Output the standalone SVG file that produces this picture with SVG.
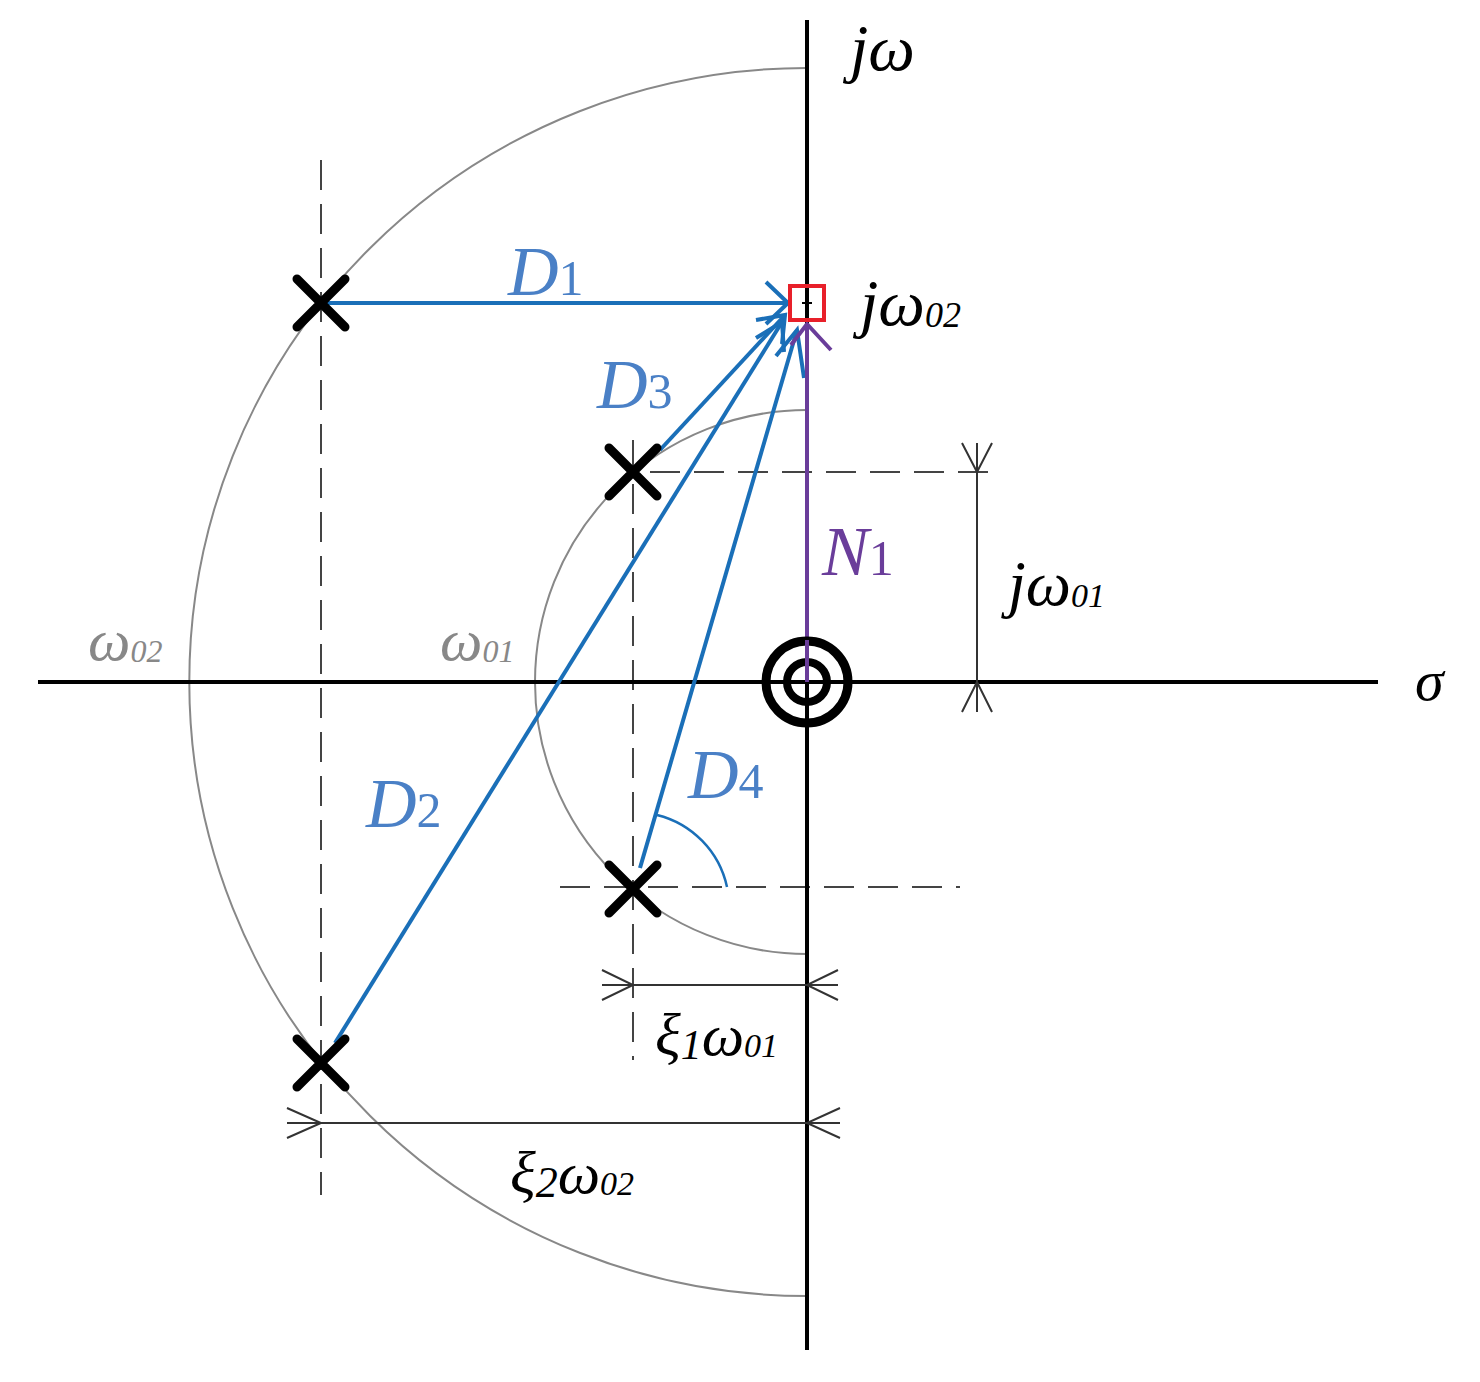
<svg xmlns="http://www.w3.org/2000/svg" width="1480" height="1382" viewBox="0 0 1480 1382">
<style>
.ax{stroke:#000;stroke-width:4;fill:none}
.dash{stroke:#444;stroke-width:2;stroke-dasharray:30,14;fill:none}
.circ{stroke:#888;stroke-width:2;fill:none}
.blue{stroke:#1a6fb8;stroke-width:4;fill:none}
.dim{stroke:#333;stroke-width:2;fill:none}
.x{stroke:#000;stroke-width:9;stroke-linecap:round}
text{font-family:'Liberation Serif','DejaVu Serif',serif;font-style:italic}
.bl{fill:#4a80c6}
.sub{font-style:normal}
</style>
<g id="circles">
<path class="circ" d="M807,68 A618,614 0 0 0 807,1296"/>
<path class="circ" d="M807,410 A272,272 0 0 0 807,954"/>
</g>
<g id="guides">
<line class="dash" x1="321" y1="160" x2="321" y2="1195"/>
<line class="dash" x1="633" y1="440" x2="633" y2="1060"/>
<line class="dash" x1="650" y1="472" x2="1000" y2="472"/>
<line class="dash" x1="560" y1="887" x2="960" y2="887"/>
</g>
<g id="axes">
<line class="ax" x1="807" y1="20" x2="807" y2="1350"/>
<line class="ax" x1="38" y1="682" x2="1378" y2="682"/>
</g>
<g id="dimensions">
<line class="dim" x1="977" y1="443" x2="977" y2="712"/>
<path class="dim" d="M962,443 L977,472 L992,443 M962,712 L977,682 L992,712"/>
<line class="dim" x1="602" y1="985" x2="838" y2="985"/>
<path class="dim" d="M602,970 L633,985 L602,1000 M838,970 L807,985 L838,1000"/>
<line class="dim" x1="287" y1="1123" x2="840" y2="1123"/>
<path class="dim" d="M287,1108 L321,1123 L287,1138 M840,1108 L807,1123 L840,1138"/>
</g>
<g id="connectors">
<line class="blue" x1="321" y1="303" x2="788" y2="303"/>
<path class="blue" d="M766,282 L788,303 L766,324"/>
<line class="blue" x1="660" y1="450" x2="785" y2="315"/>
<path class="blue" d="M756,320 L785,315 L782,344"/>
<line class="blue" x1="335" y1="1043" x2="782" y2="322"/>
<path class="blue" d="M756,338 L782,322 L784,352"/>
<line class="blue" x1="640" y1="868" x2="797" y2="330"/>
<path class="blue" d="M776,356 L797,330 L804,378"/>
<path d="M657,815 A95,95 0 0 1 727,887" stroke="#1a6fb8" stroke-width="2.5" fill="none"/>
<line x1="807" y1="682" x2="807" y2="324" stroke="#6a3d9a" stroke-width="4"/>
<path d="M791,345 L807,324 L831,350" stroke="#6a3d9a" stroke-width="4" fill="none"/>
</g>
<g id="target">
<rect x="790" y="286" width="34" height="34" fill="none" stroke="#e8202a" stroke-width="4"/>
<path d="M802,303 L812,303 M807,298 L807,308" stroke="#000" stroke-width="2"/>
</g>
<g id="zero">
<circle cx="807" cy="682" r="41" fill="none" stroke="#000" stroke-width="9"/>
<circle cx="807" cy="682" r="20" fill="none" stroke="#000" stroke-width="8"/>
<line x1="807" y1="640" x2="807" y2="682" stroke="#6a3d9a" stroke-width="4"/>
</g>
<g id="poles">
<path class="x" d="M297,279 L345,327 M345,279 L297,327"/>
<path class="x" d="M297,1039 L345,1087 M345,1039 L297,1087"/>
<path class="x" d="M609,448 L657,496 M657,448 L609,496"/>
<path class="x" d="M609,865 L657,913 M657,865 L609,913"/>
</g>
<g id="labels">
<text x="850" y="70" font-size="66">jω</text>
<text x="860" y="325" font-size="66">jω<tspan font-size="36" dy="2">02</tspan></text>
<text x="1415" y="700" font-size="58">σ</text>
<text x="1008" y="605" font-size="64">jω<tspan font-size="34" dy="2">01</tspan></text>
<text x="88" y="660" font-size="60" fill="#888">ω<tspan font-size="32" dy="2">02</tspan></text>
<text x="440" y="660" font-size="60" fill="#888">ω<tspan font-size="32" dy="2">01</tspan></text>
<text x="508" y="295" font-size="70" class="bl">D<tspan class="sub" font-size="50">1</tspan></text>
<text x="597" y="408" font-size="70" class="bl">D<tspan class="sub" font-size="50">3</tspan></text>
<text x="366" y="827" font-size="70" class="bl">D<tspan class="sub" font-size="50">2</tspan></text>
<text x="688" y="798" font-size="70" class="bl">D<tspan class="sub" font-size="50">4</tspan></text>
<text x="822" y="575" font-size="70" fill="#6a3d9a">N<tspan class="sub" font-size="50">1</tspan></text>
<text x="655" y="1055" font-size="60">ξ<tspan font-size="42" dy="4">1</tspan><tspan dy="-4">ω</tspan><tspan font-size="34" dy="2">01</tspan></text>
<text x="510" y="1193" font-size="60">ξ<tspan font-size="44" dy="4">2</tspan><tspan dy="-4">ω</tspan><tspan font-size="34" dy="2">02</tspan></text>
</g>
</svg>
